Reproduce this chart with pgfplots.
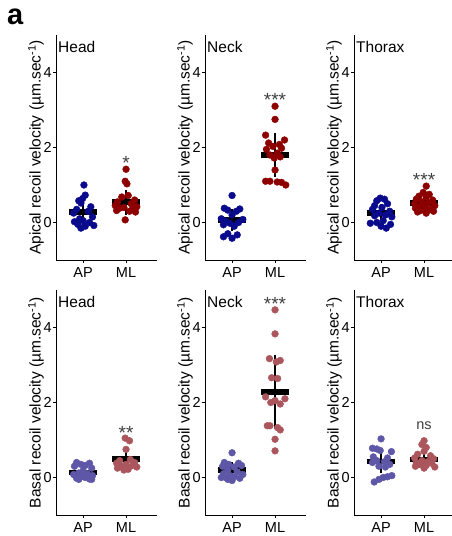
\documentclass[border=0pt]{standalone}
\usepackage{fontspec}
\setmainfont{Liberation Sans}
\usepackage{pgfplots}
\pgfplotsset{compat=1.18}
\definecolor{apTop}{HTML}{0A0A8C}
\definecolor{mlTop}{HTML}{8C0000}
\definecolor{apBot}{HTML}{5E57A8}
\definecolor{mlBot}{HTML}{AB565C}
\definecolor{stargray}{HTML}{404040}

\newcommand{\tfont}{\fontsize{15.5}{18}\selectfont}
\newcommand{\kfont}{\fontsize{14.5}{17}\selectfont}
\pgfplotsset{
  panel/.style={
    scale only axis, width=101pt, height=225pt,
    xmin=0.37, xmax=2.72, ymin=-1, ymax=5,
    axis x line*=bottom, axis y line*=left,
    axis line style={-, line width=0.9pt},
    xtick={1,2}, xticklabels={AP,ML}, ytick={0,2,4},
    tick align=outside, major tick length=3pt,
    tick style={line width=0.9pt, black},
    ticklabel style={font=\kfont, inner sep=1pt},
    xticklabel style={yshift=-3.5pt},
    /pgf/number format/assume math mode=true,
    ylabel style={at={(axis description cs:-0.198,0.5)}, anchor=center, font=\tfont},
    clip=false},
  dots/.style={only marks, mark=*, mark size=3.4pt, #1, mark options={draw=none, fill=#1}},
  meanbar/.style={black, line width=5.5pt},
  sdbar/.style={black, line width=2.5pt},
}
\newcommand{\tag}[1]{\node[anchor=north west, inner sep=0pt, xshift=2pt, yshift=-6pt, font=\tfont] at (axis description cs:0,1) {#1};}
\newcommand{\stars}[2]{\node[anchor=base, inner sep=0pt, text=stargray, font=\fontsize{19}{21}\selectfont] at (axis cs:2,#1) {#2};}

\begin{document}
\begin{tikzpicture}
\path[use as bounding box] (0,0) rectangle (452pt,536pt);
\node[anchor=base west, inner sep=0pt, font=\fontsize{29}{31}\selectfont\bfseries] at (7pt,511pt) {a};

% ---- apical, head
\begin{axis}[panel, at={(56pt,276pt)}, anchor=south west,
  ylabel={Apical recoil velocity (µm.sec\textsuperscript{-1})}]
\addplot[dots=apTop] coordinates {(1.02,1.0) (1.05,0.73) (0.99,0.64) (0.9,0.58) (0.95,0.52) (1.18,0.42) (0.85,0.35) (1.12,0.3) (0.78,0.25) (1.22,0.15) (0.92,0.1) (1.0,0.05) (0.8,0.02) (1.15,0.0) (0.88,-0.05) (1.25,-0.08) (1.05,-0.1) (0.95,-0.15)};
\addplot[dots=mlTop] coordinates {(2.0,1.42) (1.98,1.1) (2.02,1.03) (2.05,0.72) (1.9,0.68) (2.2,0.6) (1.8,0.55) (2.12,0.5) (1.75,0.45) (2.25,0.42) (1.95,0.4) (1.85,0.38) (2.15,0.35) (1.78,0.32) (2.08,0.3) (2.22,0.28) (1.98,0.07)};
\addplot[meanbar] coordinates {(0.68,0.28) (1.32,0.28)};
\addplot[sdbar] coordinates {(1,-0.1) (1,0.66)};
\addplot[meanbar] coordinates {(1.68,0.54) (2.32,0.54)};
\addplot[sdbar] coordinates {(2,0.21) (2,0.86)};
\tag{Head}
\stars{1.4}{*}
\end{axis}

% ---- apical, neck
\begin{axis}[panel, at={(205pt,276pt)}, anchor=south west,
  ylabel={Apical recoil velocity (µm.sec\textsuperscript{-1})}]
\addplot[dots=apTop] coordinates {(1.0,0.72) (0.82,0.38) (1.18,0.36) (0.9,0.33) (1.1,0.3) (1.0,0.2) (0.75,0.1) (1.25,0.08) (0.85,0.03) (1.15,0.0) (0.95,-0.02) (0.8,-0.06) (1.05,-0.1) (0.9,-0.3) (1.12,-0.33) (0.8,-0.38) (1.0,-0.42)};
\addplot[dots=mlTop] coordinates {(2.0,3.1) (2.0,2.75) (1.78,2.33) (2.22,2.2) (1.85,2.12) (2.1,2.08) (1.95,2.03) (2.15,1.98) (1.8,1.95) (2.05,1.85) (1.88,1.8) (2.12,1.75) (1.98,1.72) (2.0,1.4) (1.78,1.1) (1.88,1.1) (2.05,1.08) (2.15,1.07) (2.25,1.0)};
\addplot[meanbar] coordinates {(0.68,0.07) (1.32,0.07)};
\addplot[sdbar] coordinates {(1,-0.24) (1,0.36)};
\addplot[meanbar] coordinates {(1.68,1.8) (2.32,1.8)};
\addplot[sdbar] coordinates {(2,1.21) (2,2.38)};
\tag{Neck}
\stars{3.09}{***}
\end{axis}

% ---- apical, thorax
\begin{axis}[panel, at={(354pt,276pt)}, anchor=south west,
  ylabel={Apical recoil velocity (µm.sec\textsuperscript{-1})}]
\addplot[dots=apTop] coordinates {(0.98,0.65) (1.08,0.62) (0.9,0.58) (1.15,0.5) (0.85,0.45) (1.02,0.4) (0.8,0.35) (1.2,0.3) (0.95,0.25) (1.1,0.2) (0.85,0.18) (1.25,0.15) (1.05,0.05) (0.9,0.0) (0.75,-0.02) (1.22,-0.05) (1.0,-0.1) (1.12,-0.15)};
\addplot[dots=mlTop] coordinates {(2.05,0.97) (1.98,0.8) (2.12,0.75) (1.88,0.7) (2.05,0.68) (1.82,0.62) (2.2,0.6) (1.95,0.55) (2.1,0.52) (1.78,0.5) (2.25,0.45) (1.9,0.42) (2.02,0.4) (1.8,0.38) (2.15,0.35) (1.92,0.32) (2.22,0.3) (1.85,0.28) (2.05,0.25)};
\addplot[meanbar] coordinates {(0.68,0.25) (1.32,0.25)};
\addplot[sdbar] coordinates {(1,0.03) (1,0.48)};
\addplot[meanbar] coordinates {(1.68,0.52) (2.32,0.52)};
\addplot[sdbar] coordinates {(2,0.34) (2,0.7)};
\tag{Thorax}
\stars{0.96}{***}
\end{axis}

% ---- basal, head
\begin{axis}[panel, at={(56pt,21pt)}, anchor=south west,
  ylabel={Basal recoil velocity (µm.sec\textsuperscript{-1})}]
\addplot[dots=apBot] coordinates {(0.85,0.4) (1.15,0.38) (0.95,0.35) (1.05,0.32) (0.8,0.3) (1.2,0.25) (1.0,0.18) (0.9,0.12) (1.1,0.1) (0.78,0.08) (1.22,0.05) (0.95,0.02) (1.05,0.0) (0.85,-0.02) (1.15,-0.04) (0.9,-0.05) (1.2,-0.05)};
\addplot[dots=mlBot] coordinates {(1.98,1.05) (2.08,0.98) (2.0,0.75) (2.1,0.48) (1.85,0.45) (2.2,0.4) (1.78,0.38) (2.0,0.35) (2.15,0.32) (1.9,0.3) (2.25,0.28) (1.8,0.25) (2.05,0.22) (1.95,0.2)};
\addplot[meanbar] coordinates {(0.68,0.13) (1.32,0.13)};
\addplot[sdbar] coordinates {(1,-0.05) (1,0.31)};
\addplot[meanbar] coordinates {(1.68,0.49) (2.32,0.49)};
\addplot[sdbar] coordinates {(2,0.2) (2,0.78)};
\tag{Head}
\stars{1.01}{**}
\end{axis}

% ---- basal, neck
\begin{axis}[panel, at={(205pt,21pt)}, anchor=south west,
  ylabel={Basal recoil velocity (µm.sec\textsuperscript{-1})}]
\addplot[dots=apBot] coordinates {(1.0,0.66) (0.82,0.4) (1.15,0.38) (0.92,0.35) (1.22,0.32) (0.78,0.3) (1.05,0.28) (0.9,0.2) (1.12,0.15) (0.8,0.1) (1.25,0.08) (0.95,0.05) (1.05,0.02) (0.85,0.0) (1.18,-0.02) (0.9,-0.05) (1.0,-0.08) (0.75,0.0)};
\addplot[dots=mlBot] coordinates {(2.0,4.47) (2.0,3.83) (1.87,3.17) (2.12,3.12) (2.03,3.08) (1.92,2.66) (2.06,2.64) (1.78,2.15) (2.23,2.1) (1.9,2.0) (2.12,1.96) (2.0,2.05) (1.88,1.38) (2.06,1.33) (2.12,1.27) (2.0,1.02) (2.0,0.71) (1.82,1.38)};
\addplot[meanbar] coordinates {(0.68,0.2) (1.32,0.2)};
\addplot[sdbar] coordinates {(1,0.0) (1,0.42)};
\addplot[meanbar] coordinates {(1.68,2.28) (2.32,2.28)};
\addplot[sdbar] coordinates {(2,1.3) (2,3.26)};
\tag{Neck}
\stars{4.44}{***}
\end{axis}

% ---- basal, thorax
\begin{axis}[panel, at={(354pt,21pt)}, anchor=south west,
  ylabel={Basal recoil velocity (µm.sec\textsuperscript{-1})}]
\addplot[dots=apBot] coordinates {(1.0,1.03) (0.8,0.78) (0.9,0.76) (0.98,0.72) (1.24,0.69) (0.82,0.55) (1.15,0.52) (0.9,0.45) (1.08,0.42) (0.8,0.4) (1.2,0.35) (0.95,0.3) (1.1,0.28) (1.25,0.05) (1.15,0.02) (1.05,0.0) (0.84,-0.12) (0.95,-0.05)};
\addplot[dots=mlBot] coordinates {(2.0,0.98) (1.95,0.88) (2.05,0.8) (2.0,0.7) (1.85,0.62) (2.15,0.58) (1.78,0.52) (2.22,0.5) (1.95,0.45) (2.08,0.42) (1.82,0.4) (2.18,0.38) (1.9,0.35) (2.05,0.32) (1.8,0.3) (2.25,0.28) (2.0,0.25)};
\addplot[meanbar] coordinates {(0.68,0.42) (1.32,0.42)};
\addplot[sdbar] coordinates {(1,0.11) (1,0.69)};
\addplot[meanbar] coordinates {(1.68,0.48) (2.32,0.48)};
\addplot[sdbar] coordinates {(2,0.28) (2,0.73)};
\tag{Thorax}
\node[anchor=base, inner sep=0pt, text=stargray, font=\kfont] at (axis cs:2,1.27) {ns};
\end{axis}
\end{tikzpicture}
\end{document}
